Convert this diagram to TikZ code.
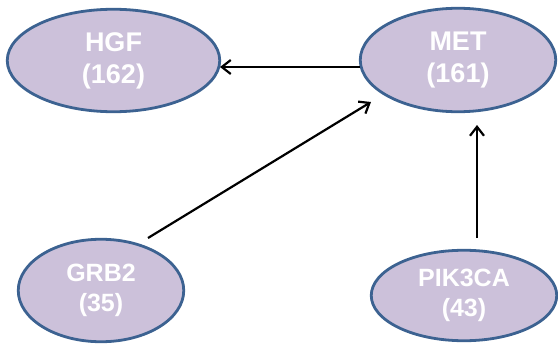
\documentclass[tikz,border=0pt]{standalone}
\usepackage{fontspec}
\setmainfont{Liberation Sans}
\usetikzlibrary{shapes.geometric,arrows.meta,calc}

\definecolor{genefill}{RGB}{204,193,218}
\definecolor{geneline}{RGB}{60,98,145}

\tikzset{
  gene/.style={ellipse, draw=geneline, line width=2.8pt, fill=genefill,
    text=white, align=center, inner sep=0pt},
  bigtext/.style={font=\fontsize{27}{32}\selectfont\bfseries},
  smalltext/.style={font=\fontsize{25}{30.5}\selectfont\bfseries},
  link/.style={line width=2.2pt, black,
    -{Straight Barb[length=9pt,width=14pt]}}
}

\begin{document}
\begin{tikzpicture}[x=1pt,y=-1pt]
  \useasboundingbox (0,0) rectangle (558,348);

  % gene nodes
  \node[gene, bigtext, minimum width=212.5pt, minimum height=102.5pt]
    (hgf) at (113.5,60.5) {HGF\\(162)};
  \node[gene, bigtext, minimum width=195.5pt, minimum height=103.5pt]
    (met) at (458,60) {MET\\(161)};
  \node[gene, smalltext, minimum width=165.5pt, minimum height=102.5pt]
    (grb2) at (101,290.5) {GRB2\\(35)};
  \node[gene, smalltext, minimum width=185.5pt, minimum height=90.5pt]
    (pik) at (464,295.5) {PIK3CA\\(43)};

  % interactions
  \draw[link] ($(met.center)+(-98.5,7)$) -- ($(hgf.center)+(106.5,6.5)$);
  \draw[link] ($(grb2.center)+(47,-52.5)$) -- ($(met.center)+(-87,42)$);
  \draw[link] ($(pik.center)+(13,-57.5)$) -- ($(met.center)+(19,65)$);
\end{tikzpicture}
\end{document}
